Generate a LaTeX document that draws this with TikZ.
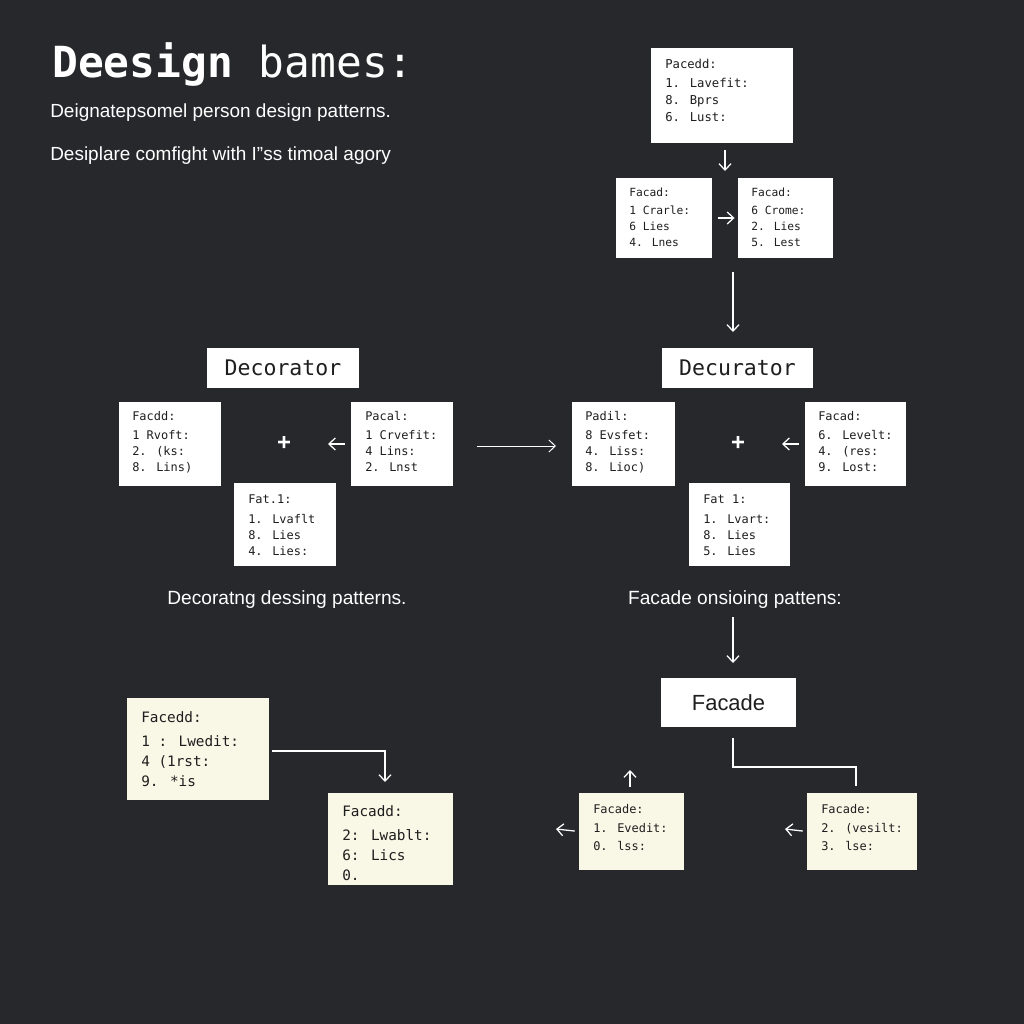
\documentclass[tikz,border=0pt]{standalone}
\usepackage{fontspec}
\setmainfont{Liberation Sans}
\newfontfamily\monofont{DejaVu Sans Mono}
\usetikzlibrary{arrows.meta,fit,calc}
\definecolor{bg}{HTML}{26282B}
\definecolor{cream}{HTML}{F9F7E6}
\definecolor{ink}{HTML}{1E1E1E}
\begin{document}
\begin{tikzpicture}[x=0.25mm,y=-0.25mm,
  wbox/.style={fill=white,draw=none,inner sep=0pt},
  cbox/.style={fill=cream,draw=none,inner sep=0pt},
  mtxt/.style={anchor=north west,inner sep=0pt,align=left,text=ink,font=\monofont\fontsize{8.5pt}{11.4pt}\selectfont},
  btxt/.style={anchor=north west,inner sep=0pt,align=left,text=ink,font=\monofont\fontsize{10.2pt}{14.2pt}\selectfont},
  wtxt/.style={inner sep=0pt,text=white,font=\fontsize{13.5pt}{16pt}\selectfont},
  htxt/.style={inner sep=0pt,text=ink,font=\monofont\fontsize{15.3pt}{16pt}\selectfont},
  arr/.style={draw=white,line width=0.9pt,-{Straight Barb[length=1.6mm,width=3mm]}},
  ln/.style={draw=white,line width=0.9pt},
  plusmark/.style={inner sep=0pt,text=white,font=\bfseries\fontsize{17pt}{17pt}\selectfont}]
% background
\fill[bg] (0,0) rectangle (1024,1024);
\useasboundingbox (0,0) rectangle (1024,1024);

% title
\node[anchor=base west,inner sep=0pt,text=white,font=\monofont\fontsize{30.5pt}{32pt}\selectfont] (title) at (52,78) {\textbf{Deesign} bames:};
\node[wtxt,anchor=base west] (sub1) at (50,118) {Deignatepsomel person design patterns.};
\node[wtxt,anchor=base west] (sub2) at (50,161) {Desiplare comfight with I"ss timoal agory};

% top right cluster
\node[wbox,fit={(651,48) (793,143)}] (T) {};
\node[mtxt,font=\monofont\fontsize{8.7pt}{12.1pt}\selectfont] (Tt) at (665,59) {Pacedd:\\[1.5pt]1. Lavefit:\\8. Bprs\\6. Lust:};
\node[wbox,fit={(616,178) (712,258)}] (B2) {};
\node[mtxt,font=\monofont\fontsize{8pt}{11.4pt}\selectfont] (B2t) at (629,188) {Facad:\\[1pt]1 Crarle:\\6 Lies\\4. Lnes};
\node[wbox,fit={(738,178) (833,258)}] (B3) {};
\node[mtxt,font=\monofont\fontsize{8pt}{11.4pt}\selectfont] (B3t) at (751,188) {Facad:\\[1pt]6 Crome:\\2. Lies\\5. Lest};

\coordinate (a1s) at (725,150); \coordinate (a1e) at (725,171);
\draw[arr] (a1s) -- (a1e);
\draw[arr,shorten <=1.5mm,shorten >=0.8mm] (B2) -- (B3);
\coordinate (a3s) at (733,272); \coordinate (a3e) at (733,332);
\draw[arr] (a3s) -- (a3e);

% decorator headers
\node[wbox,fit={(207,348) (359,388)}] (DL) {};
\node[htxt] (DLt) at (DL.center) {Decorator};
\node[wbox,fit={(662,348) (813,388)}] (DR) {};
\node[htxt] (DRt) at (DR.center) {Decurator};

% left middle group
\node[wbox,fit={(119,402) (221,486)}] (A) {};
\node[mtxt] (At) at (132,411) {Facdd:\\[2pt]1 Rvoft:\\2. (ks:\\8. Lins)};
\node[wbox,fit={(351,402) (453,486)}] (B) {};
\node[mtxt] (Bt) at (365,411) {Pacal:\\[2pt]1 Crvefit:\\4 Lins:\\2. Lnst};
\node[wbox,fit={(234,483) (336,566)}] (C) {};
\node[mtxt] (Ct) at (248,495) {Fat.1:\\[2.5pt]1. Lvaflt\\8. Lies\\4. Lies:};
\node[plusmark] (p1) at (284,443) {+};
\coordinate (a4e) at (328,444);
\draw[arr,shorten <=1.5mm] (B.west) -- (a4e);

% right middle group
\node[wbox,fit={(572,402) (675,486)}] (D) {};
\node[mtxt] (Dt) at (585,411) {Padil:\\[2pt]8 Evsfet:\\4. Liss:\\8. Lioc)};
\node[wbox,fit={(805,402) (906,486)}] (E) {};
\node[mtxt] (Et) at (818,411) {Facad:\\[2pt]6. Levelt:\\4. (res:\\9. Lost:};
\node[wbox,fit={(689,483) (790,566)}] (F) {};
\node[mtxt] (Ft) at (703,495) {Fat 1:\\[2.5pt]1. Lvart:\\8. Lies\\5. Lies};
\node[plusmark] (p2) at (738,443) {+};
\coordinate (a6e) at (782,444);
\draw[arr,shorten <=1.5mm] (E.west) -- (a6e);

% long arrow between groups
\coordinate (a5s) at (477,446); \coordinate (a5e) at (556,446);
\draw[arr,line width=0.7pt] (a5s) -- (a5e);

% captions
\node[wtxt,anchor=base,font=\fontsize{13.6pt}{16pt}\selectfont] (cap1) at (287,604) {Decoratng dessing patterns.};
\node[wtxt,anchor=base,font=\fontsize{13.6pt}{16pt}\selectfont] (cap2) at (735,604) {Facade onsioing pattens:};

% facade section
\coordinate (a7s) at (733,617); \coordinate (a7e) at (733,663);
\draw[arr] (a7s) -- (a7e);
\node[wbox,fit={(661,678) (796,727)}] (FC) {};
\node[inner sep=0pt,text=ink,font=\fontsize{15.6pt}{16pt}\selectfont] (FCt) at (FC.center) {Facade};
\coordinate (l1) at (733,738); \coordinate (l2) at (733,767);
\coordinate (l3) at (856,767); \coordinate (l4) at (856,786);
\draw[ln] (l1) -- (l2) -- (l3) -- (l4);

\node[cbox,fit={(579,793) (684,870)}] (G) {};
\node[mtxt,font=\monofont\fontsize{8.5pt}{12.8pt}\selectfont] (Gt) at (593,804) {Facade:\\[1pt]1. Evedit:\\0. lss:};
\node[cbox,fit={(807,793) (917,870)}] (H) {};
\node[mtxt,font=\monofont\fontsize{8.5pt}{12.8pt}\selectfont] (Ht) at (821,804) {Facade:\\[1pt]2. (vesilt:\\3. lse:};
\coordinate (a9s) at (630,787); \coordinate (a9e) at (630,770);
\draw[arr] (a9s) -- (a9e);
\coordinate (a10e) at (556,829);
\draw[arr,shorten <=1mm] (G.west) -- (a10e);
\coordinate (a11e) at (785,829);
\draw[arr,shorten <=1mm] (H.west) -- (a11e);

% bottom left
\node[cbox,fit={(127,698) (269,800)}] (I) {};
\node[btxt] (It) at (141,711) {Facedd:\\[3pt]1 : Lwedit:\\4 (1rst:\\9. *is};
\node[cbox,fit={(328,793) (453,885)}] (J) {};
\node[btxt] (Jt) at (342,805) {Facadd:\\[3pt]2: Lwablt:\\6: Lics\\0.};
\coordinate (b1) at (272,751); \coordinate (b2) at (385,751); \coordinate (b3) at (385,782);
\draw[arr] (b1) -- (b2) -- (b3);
\end{tikzpicture}
\end{document}
